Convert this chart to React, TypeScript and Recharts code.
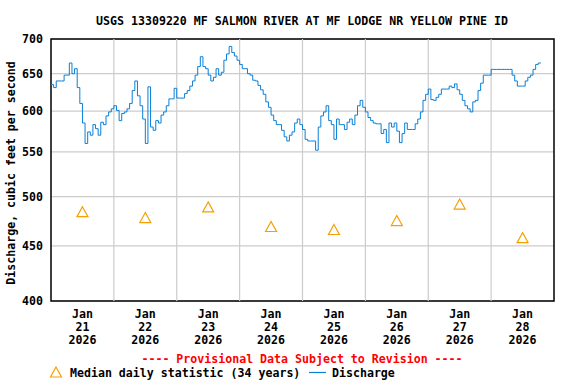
import React from 'react';
import {
  ComposedChart,
  Line,
  Scatter,
  XAxis,
  YAxis,
  CartesianGrid,
  ReferenceLine,
  ReferenceArea,
} from 'recharts';

const FONT = '"DejaVu Sans Mono", "Liberation Mono", monospace';
const BLUE = '#0a7fd6';
const ORANGE = '#f5a000';

// Hourly discharge (cfs), starting Jan 21 2026 00:00
const dischargeCfs = [
  635, 631, 640, 640, 640, 648, 648, 665, 650, 657,
  631, 610, 585, 560, 574, 570, 583, 578, 570, 586,
  583, 594, 599, 603, 607, 601, 588, 597, 599, 603,
  610, 627, 640, 620, 607, 590, 560, 632, 580, 576,
  588, 585, 595, 599, 607, 616, 616, 630, 617, 617,
  617, 623, 627, 633, 640, 648, 660, 674, 660, 657,
  648, 640, 645, 657, 648, 652, 669, 678, 689, 680,
  675, 669, 663, 657, 657, 650, 648, 641, 640, 634,
  628, 622, 612, 605, 595, 588, 583, 583, 576, 568,
  563, 570, 574, 585, 590, 583, 577, 565, 563, 563,
  563, 552, 580, 594, 599, 607, 588, 583, 565, 590,
  583, 583, 577, 586, 590, 583, 595, 607, 614, 605,
  599, 592, 588, 585, 584, 584, 572, 577, 561, 585,
  580, 585, 575, 561, 572, 585, 577, 577, 577, 584,
  590, 599, 614, 622, 629, 615, 614, 618, 622, 629,
  629, 629, 633, 631, 636, 628, 622, 614, 607, 603,
  599, 612, 614, 627, 637, 648, 648, 648, 656, 656,
  656, 656, 656, 656, 656, 656, 648, 640, 633, 633,
  633, 640, 645, 648, 656, 663, 665, 665,
];

// Median daily statistic (34 years), at noon of each day
const medianHours = [12, 36, 60, 84, 108, 132, 156, 180];
const medianCfs = [483, 477, 488, 468, 465, 474, 491, 457];

// Axis ticks
const tickHours = [12, 36, 60, 84, 108, 132, 156, 180];
const tickMonths = ['Jan', 'Jan', 'Jan', 'Jan', 'Jan', 'Jan', 'Jan', 'Jan'];
const tickDays = ['21', '22', '23', '24', '25', '26', '27', '28'];
const tickYears = ['2026', '2026', '2026', '2026', '2026', '2026', '2026', '2026'];
const midnightHours = [24, 48, 72, 96, 120, 144, 168];
const yTicks = [400, 450, 500, 550, 600, 650, 700];

const seriesData = dischargeCfs.map((q, i) => ({ h: i, q }));
const medianData = medianHours.map((h, i) => ({ h, m: medianCfs[i] }));

const textStyle: React.CSSProperties = {
  fontFamily: FONT,
  fontSize: 11.6,
  fontWeight: 'bold',
};

function DateTick(props: any) {
  const { x, y, payload } = props;
  const i = tickHours.indexOf(payload.value);
  if (i < 0) return null;
  return (
    <g>
      <text x={x} y={y + 17} textAnchor="middle" fill="#000" style={textStyle}>
        {tickMonths[i]}
      </text>
      <text x={x} y={y + 30} textAnchor="middle" fill="#000" style={textStyle}>
        {tickDays[i]}
      </text>
      <text x={x} y={y + 43} textAnchor="middle" fill="#000" style={textStyle}>
        {tickYears[i]}
      </text>
    </g>
  );
}

function Tri(props: any) {
  const { cx, cy } = props;
  if (cx == null || cy == null) return null;
  return (
    <path
      d={`M${cx},${cy - 6}L${cx + 5.5},${cy + 4}L${cx - 5.5},${cy + 4}Z`}
      fill="none"
      stroke={ORANGE}
      strokeWidth={1.2}
    />
  );
}

export default function App() {
  return (
    <div style={{ position: 'absolute', left: 0, top: 0, width: 576, height: 384, background: '#fff' }}>
      <ComposedChart
        width={576}
        height={384}
        margin={{ top: 39, right: 22, bottom: 23, left: 0 }}
      >
        <CartesianGrid vertical={false} stroke="#cccccc" strokeWidth={1.2} />
        {midnightHours.map((h) => (
          <ReferenceLine key={h} x={h} stroke="#cccccc" strokeWidth={1.2} />
        ))}
        <XAxis
          dataKey="h"
          type="number"
          domain={[0, 192]}
          ticks={tickHours}
          interval={0}
          tick={<DateTick />}
          tickLine={false}
          axisLine={false}
          tickSize={0}
          tickMargin={0}
          height={60}
          allowDataOverflow
        />
        <YAxis
          type="number"
          scale="log"
          domain={[400, 700]}
          ticks={yTicks}
          interval={0}
          allowDataOverflow
          width={51}
          tickLine={false}
          axisLine={false}
          tickSize={0}
          tickMargin={8}
          tick={{ fill: '#000', fontFamily: FONT, fontSize: 11.6, fontWeight: 'bold' }}
        />
        <ReferenceArea
          x1={0}
          x2={192}
          y1={400}
          y2={700}
          fill="none"
          fillOpacity={0}
          stroke="#000"
          strokeWidth={1.5}
        />
        <Line
          data={seriesData}
          dataKey="q"
          type="stepAfter"
          stroke={BLUE}
          strokeWidth={1}
          dot={false}
          isAnimationActive={false}
        />
        <Scatter
          data={medianData}
          dataKey="m"
          shape={<Tri />}
          isAnimationActive={false}
        />
      </ComposedChart>
      <svg
        width={576}
        height={384}
        style={{ position: 'absolute', left: 0, top: 0, pointerEvents: 'none' }}
      >
        <text x={302} y={25} textAnchor="middle" fill="#000" style={textStyle}>
          USGS 13309220 MF SALMON RIVER AT MF LODGE NR YELLOW PINE ID
        </text>
        <text
          x={0}
          y={0}
          transform="translate(15,173) rotate(-90)"
          textAnchor="middle"
          fill="#000"
          style={textStyle}
        >
          Discharge, cubic feet per second
        </text>
        <text x={302} y={363} textAnchor="middle" fill="#ff0000" style={textStyle}>
          ---- Provisional Data Subject to Revision ----
        </text>
        <Tri cx={56} cy={373} />
        <text x={70} y={377} fill="#000" style={textStyle}>
          Median daily statistic (34 years)
        </text>
        <line x1={309} x2={326} y1={372.5} y2={372.5} stroke={BLUE} strokeWidth={1.2} />
        <text x={332} y={377} fill="#000" style={textStyle}>
          Discharge
        </text>
      </svg>
    </div>
  );
}
